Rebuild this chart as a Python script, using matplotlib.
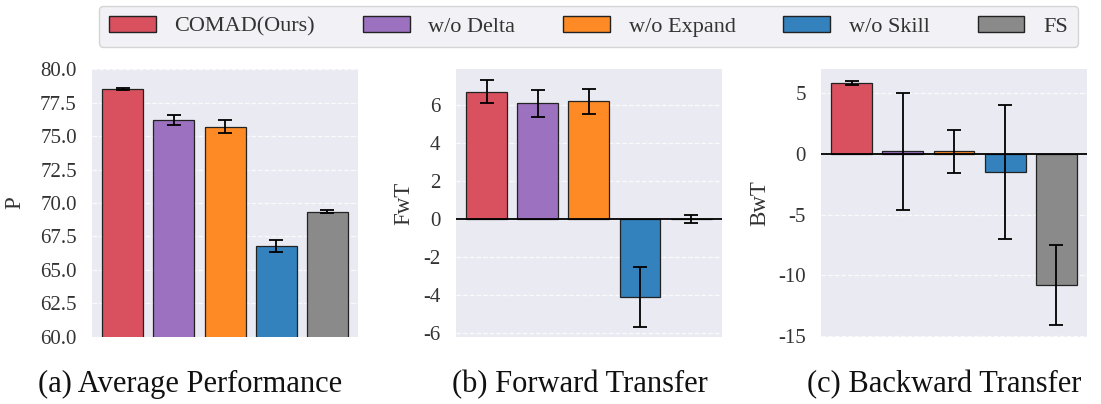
import numpy as np
import matplotlib.pyplot as plt
from matplotlib.patches import Patch

methods = ["COMAD(Ours)", "w/o Delta", "w/o Expand", "w/o Skill", "FS"]
colors = ["#d9505f", "#9c72c0", "#fd8a24", "#3381bd", "#8a8a8a"]

p_mean = [78.5, 76.2, 75.7, 66.8, 69.35]
p_err = [0.08, 0.35, 0.5, 0.45, 0.1]

fwt_mean = [6.7, 6.1, 6.2, -4.1, 0.0]
fwt_err = [0.6, 0.7, 0.65, 1.6, 0.22]

bwt_mean = [5.85, 0.2, 0.2, -1.5, -10.8]
bwt_err = [0.15, 4.8, 1.8, 5.5, 3.3]

panels = [
    ("P", "(a) Average Performance", p_mean, p_err, (60, 80), np.arange(60, 80.1, 2.5), "{:.1f}"),
    ("FwT", "(b) Forward Transfer", fwt_mean, fwt_err, (-6.2, 7.9), np.arange(-6, 7, 2), "{:.0f}"),
    ("BwT", "(c) Backward Transfer", bwt_mean, bwt_err, (-15.1, 7.0), np.arange(-15, 6, 5), "{:.0f}"),
]

plt.rcParams["font.family"] = ["Liberation Serif", "DejaVu Serif"]

fig = plt.figure(figsize=(11.01, 4.04), dpi=100)
# axes left edges, label x (axes coords), title centre (figure coords)
lefts = [0.0836, 0.414, 0.7457]
label_x = [-0.25, -0.155, -0.19]
title_x = [0.173, 0.527, 0.858]

x = np.arange(len(methods))
for i, (ylab, title, vals, errs, ylim, ticks, fmt) in enumerate(panels):
    ax = fig.add_axes([lefts[i], 0.166, 0.2416, 0.663])
    ax.set_facecolor("#eaeaf2")
    for s in ax.spines.values():
        s.set_visible(False)
    ax.set_axisbelow(True)
    ax.yaxis.grid(True, color="white", linestyle="--", linewidth=0.9, alpha=0.8)
    ax.bar(x, vals, width=0.8, color=colors, edgecolor="#222222", linewidth=0.9,
           yerr=errs, capsize=5, error_kw=dict(elinewidth=1.3, capthick=1.3, ecolor="black"))
    if ylim[0] < 0:
        ax.axhline(0, color="black", linewidth=1.3)
    ax.set_xlim(-0.6, 4.6)
    ax.set_ylim(*ylim)
    ax.set_xticks([])
    ax.set_yticks(ticks)
    ax.set_yticklabels([fmt.format(t) for t in ticks], fontsize=15, color="#333333")
    ax.tick_params(axis="y", length=0, pad=11)
    ax.set_ylabel(ylab, fontsize=16.5, color="#333333")
    ax.yaxis.set_label_coords(label_x[i], 0.5)
    fig.text(title_x[i], 0.03, title, ha="center", va="baseline",
             fontsize=22, color="#111111")

handles = [Patch(facecolor=c, edgecolor="#222222", linewidth=1.0) for c in colors]
leg = fig.legend(handles, methods, loc="upper center", bbox_to_anchor=(0.5345, 0.986),
                 ncol=5, fontsize=16, frameon=True, fancybox=True,
                 handlelength=2.1, handleheight=0.75, columnspacing=2.15, handletextpad=0.85,
                 borderpad=0.45, borderaxespad=0.0)
leg.get_frame().set_facecolor("#eeeef4")
leg.get_frame().set_edgecolor("#cccccc")
for t in leg.get_texts():
    t.set_color("#333333")

fig.savefig("out.png", dpi=100)
